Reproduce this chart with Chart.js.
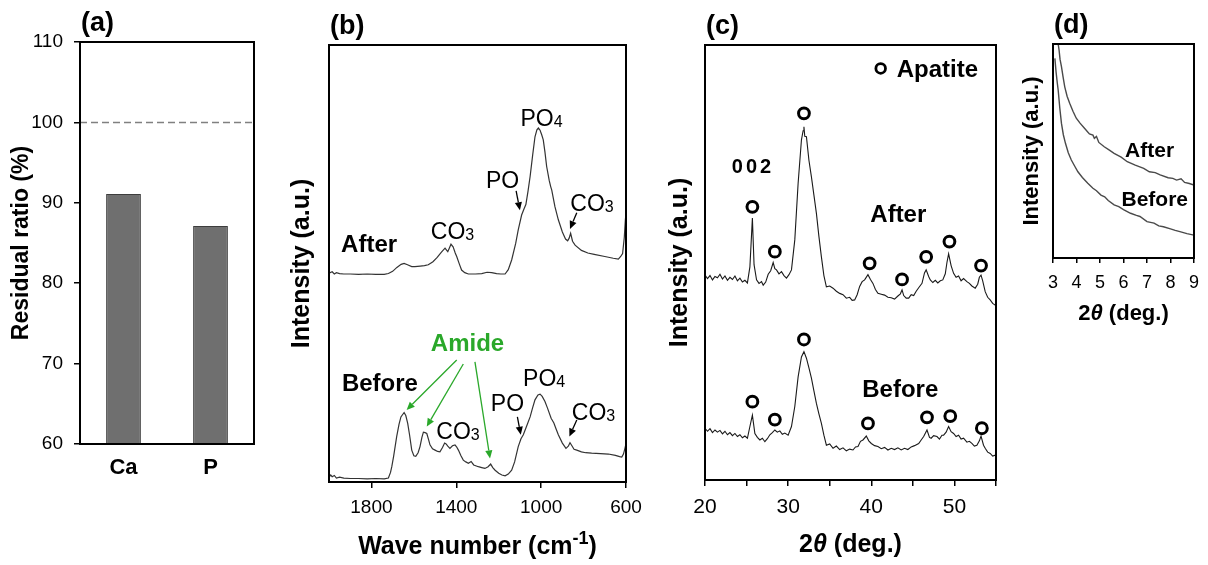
<!DOCTYPE html>
<html>
<head>
<meta charset="utf-8">
<script src="https://cdn.jsdelivr.net/npm/chart.js@4.4.1/dist/chart.umd.min.js"></script>
<style>
  html, body { margin: 0; padding: 0; background: #fff; }
  #figure { position: relative; width: 1208px; height: 565px; overflow: hidden; }
  #figure canvas { position: absolute; top: 0; }
</style>
</head>
<body>
<div id="figure">
  <canvas id="ratioChart" width="285" height="565" style="left:0"></canvas>
  <canvas id="ftirChart" width="370" height="565" style="left:285px"></canvas>
  <canvas id="xrdChart" width="360" height="565" style="left:655px"></canvas>
  <canvas id="lowAngleChart" width="193" height="330" style="left:1015px"></canvas>
</div>
<script>
// (a) residual ratio of the elements
const elements = ['Ca', 'P'];
const residualRatio = [91.1, 87.1];
const referenceLevel = 100;

// (b) FTIR spectra, [wave number, intensity]
const waveTicks = [1800, 1400, 1000, 600];
const ftirAfter = [
  [2000, 47.8], [1985, 48.1], [1975, 47.6], [1965, 47.9], [1950, 47.7], [1930, 47.6], [1900, 47.6],
  [1860, 47.5], [1820, 47.6], [1780, 47.5], [1740, 47.5], [1720, 47.7], [1700, 48.2], [1680, 49.1],
  [1660, 49.8], [1646, 50.0], [1630, 49.7], [1610, 49.3], [1595, 49.3], [1570, 49.4], [1550, 49.5],
  [1532, 49.7], [1510, 50.4], [1490, 51.4], [1470, 52.6], [1453, 53.5], [1445, 53.0], [1440, 52.7],
  [1432, 53.6], [1425, 54.4], [1415, 53.8], [1405, 52.4], [1398, 51.6], [1385, 49.8], [1375, 48.5],
  [1360, 47.9], [1343, 47.6], [1310, 47.6], [1280, 47.7], [1255, 48.0], [1233, 47.9], [1210, 47.7],
  [1190, 47.6], [1170, 47.6], [1155, 48.6], [1139, 50.8], [1120, 54.6], [1108, 57.7], [1092, 61.1],
  [1080, 62.6], [1072, 63.5], [1062, 66.5], [1052, 69.9], [1040, 74.8], [1029, 79.0], [1020, 80.6],
  [1013, 81.0], [1005, 80.5], [997, 79.4], [990, 78.3], [982, 75.5], [974, 72.2], [962, 69.0],
  [955, 67.6], [950, 66.8], [935, 63.0], [919, 60.0], [900, 57.2], [885, 55.6], [875, 55.2],
  [868, 55.8], [861, 56.9], [852, 55.1], [840, 54.2], [810, 53.0], [780, 52.4], [750, 52.1],
  [700, 51.6], [660, 51.2], [636, 51.0], [625, 51.6], [616, 52.3], [608, 56.0], [603, 60.0], [600, 61.5]
];
const ftirBefore = [
  [2000, 1.1], [1992, 1.6], [1985, 1.2], [1975, 1.5], [1965, 0.9], [1950, 1.1], [1930, 0.9],
  [1900, 0.8], [1860, 0.8], [1820, 0.7], [1780, 0.8], [1740, 0.7], [1720, 0.9], [1710, 2.2],
  [1704, 3.5], [1695, 6.0], [1681, 10.4], [1670, 13.2], [1661, 14.9], [1646, 15.9], [1638, 15.2],
  [1629, 13.4], [1620, 10.7], [1610, 7.3], [1600, 6.0], [1591, 5.9], [1580, 6.7], [1571, 8.1],
  [1562, 10.2], [1555, 11.4], [1547, 11.3], [1539, 11.1], [1530, 9.6], [1524, 8.5], [1512, 7.6],
  [1500, 7.3], [1488, 7.0], [1477, 6.9], [1465, 7.9], [1455, 8.9], [1448, 8.7], [1440, 8.2],
  [1430, 7.7], [1418, 8.3], [1406, 8.5], [1398, 8.0], [1390, 7.3], [1378, 6.0], [1367, 5.0],
  [1355, 4.6], [1343, 4.3], [1330, 4.7], [1318, 3.9], [1296, 3.5], [1280, 3.3], [1265, 3.1],
  [1250, 3.5], [1238, 4.1], [1228, 3.3], [1217, 2.7], [1200, 2.0], [1185, 1.6], [1170, 1.4],
  [1155, 1.8], [1139, 2.7], [1125, 4.6], [1108, 8.1], [1095, 9.9], [1084, 10.8], [1070, 12.6],
  [1052, 14.9], [1040, 17.0], [1029, 18.8], [1015, 19.9], [1005, 20.1], [995, 19.6], [982, 18.4],
  [970, 16.9], [953, 14.6], [940, 13.5], [930, 12.2], [919, 10.8], [900, 8.9], [883, 7.7],
  [872, 8.2], [864, 9.0], [855, 8.3], [845, 7.5], [832, 7.3], [810, 6.9], [790, 6.7], [762, 6.6],
  [720, 6.5], [683, 6.4], [650, 6.1], [630, 5.8], [620, 5.7], [612, 6.4], [605, 7.7], [600, 8.8]
];

// (c) XRD patterns, [2theta, intensity]
const xrdAfter = [
  [20.0, 47.1], [20.3, 46.3], [20.6, 47.0], [20.9, 46.0], [21.2, 46.8], [21.5, 46.5], [21.8, 47.3],
  [22.1, 46.2], [22.4, 46.9], [22.7, 45.9], [23.0, 46.6], [23.3, 46.1], [23.6, 46.9], [23.9, 45.8],
  [24.2, 46.4], [24.5, 45.5], [24.8, 45.9], [25.1, 45.3], [25.4, 49.0], [25.7, 60.2], [25.9, 49.5],
  [26.2, 46.0], [26.5, 45.2], [26.8, 45.6], [27.0, 44.8], [27.3, 45.5], [27.6, 47.3], [27.9, 48.1],
  [28.2, 50.0], [28.4, 48.6], [28.6, 48.3], [28.9, 47.4], [29.2, 47.9], [29.5, 47.0], [29.8, 46.4],
  [30.1, 47.2], [30.4, 48.3], [30.8, 55.2], [31.2, 68.2], [31.6, 78.2], [31.8, 80.3], [31.9, 81.2],
  [32.0, 79.0], [32.2, 78.9], [32.5, 73.5], [32.8, 69.7], [33.1, 65.5], [33.4, 61.3], [33.7, 56.0],
  [34.0, 51.3], [34.3, 47.0], [34.6, 44.4], [35.0, 44.6], [35.4, 44.1], [35.8, 43.4], [36.2, 42.9],
  [36.6, 42.6], [37.0, 41.8], [37.4, 42.0], [37.7, 41.3], [38.0, 41.4], [38.3, 42.6], [38.6, 44.5],
  [38.9, 45.6], [39.2, 46.0], [39.6, 47.2], [39.9, 46.1], [40.2, 45.2], [40.5, 43.8], [40.8, 42.9],
  [41.2, 42.7], [41.6, 42.5], [42.0, 42.0], [42.4, 41.9], [42.8, 41.6], [43.2, 42.3], [43.5, 42.8],
  [43.7, 43.7], [43.9, 42.4], [44.2, 41.8], [44.5, 41.8], [44.8, 42.6], [45.1, 42.4], [45.4, 43.4],
  [45.7, 44.2], [46.1, 45.2], [46.4, 47.6], [46.6, 48.3], [46.9, 46.8], [47.1, 46.0], [47.4, 45.4],
  [47.7, 45.9], [48.0, 45.3], [48.3, 45.8], [48.6, 46.0], [48.9, 47.4], [49.1, 50.0], [49.3, 52.0],
  [49.6, 49.3], [49.9, 47.5], [50.2, 46.6], [50.5, 46.9], [50.8, 45.8], [51.1, 46.3], [51.5, 45.6],
  [51.8, 45.2], [52.1, 44.6], [52.5, 44.1], [52.8, 45.0], [53.0, 46.6], [53.2, 47.1], [53.4, 45.8],
  [53.7, 43.3], [54.0, 42.0], [54.3, 41.4], [54.6, 40.6], [54.9, 40.2], [55.0, 40.0]
];
const xrdBefore = [
  [20.0, 11.9], [20.3, 11.2], [20.6, 11.8], [20.9, 10.9], [21.2, 11.5], [21.5, 11.0], [21.8, 11.4],
  [22.1, 10.6], [22.4, 11.2], [22.7, 10.4], [23.0, 10.9], [23.3, 10.2], [23.6, 10.7], [23.9, 10.0],
  [24.2, 10.4], [24.5, 9.7], [24.8, 10.1], [25.1, 9.6], [25.4, 12.3], [25.7, 14.9], [26.0, 10.7],
  [26.3, 9.8], [26.6, 9.2], [26.9, 9.6], [27.2, 8.8], [27.5, 9.5], [27.8, 10.4], [28.1, 10.9],
  [28.4, 11.5], [28.7, 11.0], [29.0, 11.3], [29.3, 10.5], [29.6, 10.8], [30.0, 10.3], [30.4, 12.3],
  [30.8, 16.9], [31.2, 23.7], [31.6, 28.3], [31.9, 29.5], [32.2, 28.0], [32.5, 25.8], [32.8, 23.4],
  [33.1, 20.5], [33.4, 17.6], [33.7, 15.2], [34.0, 13.0], [34.3, 10.3], [34.6, 8.0], [35.0, 8.3],
  [35.4, 7.3], [35.8, 7.8], [36.2, 7.0], [36.6, 7.4], [37.0, 6.7], [37.4, 7.1], [37.8, 6.9],
  [38.1, 7.6], [38.4, 7.7], [38.7, 8.9], [39.0, 9.2], [39.4, 10.1], [39.7, 9.0], [40.0, 8.4],
  [40.4, 7.9], [40.8, 7.7], [41.2, 7.2], [41.6, 7.5], [42.0, 6.9], [42.4, 7.3], [42.8, 7.0],
  [43.2, 7.4], [43.6, 6.9], [44.0, 7.3], [44.4, 7.0], [44.8, 7.6], [45.2, 7.9], [45.7, 8.4],
  [46.0, 9.2], [46.3, 10.0], [46.7, 11.5], [47.0, 9.8], [47.2, 9.6], [47.5, 10.2], [47.9, 10.0],
  [48.2, 9.4], [48.5, 10.3], [48.7, 10.3], [49.0, 11.0], [49.3, 12.3], [49.6, 11.1], [49.9, 10.7],
  [50.2, 10.0], [50.5, 10.3], [50.8, 9.4], [51.1, 9.6], [51.5, 8.7], [51.8, 8.9], [52.1, 8.4],
  [52.4, 7.8], [52.7, 8.0], [53.0, 9.0], [53.2, 10.1], [53.5, 8.0], [53.7, 7.3], [54.0, 6.4],
  [54.3, 6.1], [54.6, 5.5], [54.9, 5.7], [55.0, 5.4]
];
// apatite reflections marked above each pattern
const apatiteAfter = [[25.7, 62.8], [28.4, 52.5], [31.9, 84.3], [39.8, 49.8], [43.7, 46.1], [46.6, 51.3], [49.4, 54.8], [53.2, 49.3]];
const apatiteBefore = [[25.7, 18.0], [28.4, 13.9], [31.9, 32.3], [39.6, 13.0], [46.7, 14.4], [49.5, 14.7], [53.3, 11.9]];

// (d) low-angle region, [2theta, intensity]
const lowAfter = [
  [3.22, 100], [3.26, 97.0], [3.30, 92.8], [3.36, 89.4], [3.43, 84.5], [3.50, 80.0], [3.60, 75.6],
  [3.71, 72.3], [3.85, 68.6], [3.99, 65.3], [4.15, 63.0], [4.34, 60.6], [4.55, 58.0], [4.70, 57.4],
  [4.76, 55.9], [4.85, 56.8], [4.95, 54.0], [5.18, 52.0], [5.40, 50.4], [5.60, 48.9], [5.90, 47.1],
  [6.16, 45.0], [6.50, 43.4], [6.86, 41.9], [7.10, 40.3], [7.35, 39.9], [7.56, 38.8], [7.90, 37.5],
  [8.10, 37.2], [8.26, 36.4], [8.45, 37.0], [8.60, 35.3], [8.80, 34.8], [9.00, 34.1]
];
const lowBefore = [
  [3.08, 93.3], [3.13, 87.0], [3.18, 82.0], [3.22, 78.5], [3.29, 70.0], [3.36, 62.9], [3.44, 57.6],
  [3.53, 53.6], [3.65, 49.2], [3.78, 45.8], [3.92, 43.0], [4.06, 40.3], [4.25, 37.6], [4.48, 34.9],
  [4.70, 32.6], [4.85, 31.4], [5.04, 29.4], [5.20, 28.6], [5.35, 26.9], [5.60, 24.8], [5.80, 24.0],
  [6.00, 22.6], [6.30, 20.9], [6.55, 19.9], [6.70, 19.4], [7.00, 17.0], [7.30, 16.3], [7.50, 15.0],
  [7.70, 14.6], [8.00, 13.6], [8.20, 12.9], [8.40, 12.3], [8.70, 11.4], [9.00, 10.7]
];

const FONT = "'Liberation Sans', Arial, Helvetica, sans-serif";
const AMIDE_GREEN = '#2aa82a';

Chart.defaults.font.family = FONT;
Chart.defaults.color = '#000';
Chart.defaults.animation = false;
Chart.defaults.responsive = false;
Chart.defaults.plugins.legend.display = false;
Chart.defaults.plugins.tooltip.enabled = false;

const toPoints = pairs => pairs.map(([x, y]) => ({ x, y }));

// small helpers for labels made of normal / subscript / italic pieces
const plain = t => [{ t }];
const chem = (base, idx) => [{ t: base }, { t: idx, sub: true }];

function drawRich(ctx, parts, x, cy, size, weight, color, align) {
  const fontOf = p => `${p.italic ? 'italic ' : ''}${weight} ${p.sub || p.sup ? Math.round(size * 0.7) : size}px ${FONT}`;
  const widths = parts.map(p => { ctx.font = fontOf(p); return ctx.measureText(p.t).width; });
  const total = widths.reduce((a, b) => a + b, 0);
  let cx = align === 'left' ? x : x - total / 2;
  const base = cy + size * 0.36;
  ctx.fillStyle = color;
  ctx.textAlign = 'left';
  ctx.textBaseline = 'alphabetic';
  parts.forEach((p, i) => {
    ctx.font = fontOf(p);
    const shift = p.sub ? size * 0.03 : p.sup ? -size * 0.4 : 0;
    ctx.fillText(p.t, cx, base + shift);
    cx += widths[i];
  });
}

function drawArrow(ctx, x1, y1, x2, y2, color) {
  const ang = Math.atan2(y2 - y1, x2 - x1);
  const head = 8, half = 3.6;
  const bx = x2 - head * Math.cos(ang), by = y2 - head * Math.sin(ang);
  ctx.strokeStyle = color;
  ctx.fillStyle = color;
  ctx.lineWidth = 1.3;
  ctx.beginPath();
  ctx.moveTo(x1, y1);
  ctx.lineTo(bx, by);
  ctx.stroke();
  ctx.beginPath();
  ctx.moveTo(x2, y2);
  ctx.lineTo(bx + half * Math.sin(ang), by - half * Math.cos(ang));
  ctx.lineTo(bx - half * Math.sin(ang), by + half * Math.cos(ang));
  ctx.closePath();
  ctx.fill();
}

// frame, panel letter, axis caption and in-plot notes for one chart
function makeDecor(spec) {
  return {
    id: 'decor',
    afterDraw(chart) {
      const { ctx, chartArea: area, scales } = chart;
      const px = v => scales.x.getPixelForValue(v);
      const py = v => scales.y.getPixelForValue(v);
      ctx.save();

      if (spec.refLine !== undefined) {
        ctx.strokeStyle = '#808080';
        ctx.lineWidth = 1.5;
        ctx.setLineDash([7, 4]);
        ctx.beginPath();
        ctx.moveTo(area.left, py(spec.refLine));
        ctx.lineTo(area.right, py(spec.refLine));
        ctx.stroke();
        ctx.setLineDash([]);
      }

      ctx.strokeStyle = '#000';
      ctx.lineWidth = 2;
      ctx.strokeRect(area.left, area.top, area.right - area.left, area.bottom - area.top);

      drawRich(ctx, plain(spec.tag), area.left + 1, area.top - 21, 27, 'bold', '#000', 'left');

      if (spec.caption) {
        drawRich(ctx, spec.caption.parts, (area.left + area.right) / 2, area.bottom + spec.caption.gap,
          spec.caption.size, 'bold', '#000', 'center');
      }

      (spec.arrows || []).forEach(a => {
        drawArrow(ctx, px(a.from[0]), py(a.from[1]), px(a.to[0]), py(a.to[1]), a.color || '#000');
      });

      (spec.labels || []).forEach(l => {
        ctx.letterSpacing = l.spacing || '0px';
        drawRich(ctx, l.parts, px(l.x), py(l.y), l.size, l.bold ? 'bold' : 'normal', l.color || '#000', l.align || 'center');
        ctx.letterSpacing = '0px';
      });

      if (spec.legendMark) {
        ctx.strokeStyle = '#000';
        ctx.lineWidth = 2.8;
        ctx.beginPath();
        ctx.arc(px(spec.legendMark[0]), py(spec.legendMark[1]), 4.8, 0, Math.PI * 2);
        ctx.stroke();
      }
      ctx.restore();
    }
  };
}

function tickGrid(len) {
  return { display: true, drawOnChartArea: false, drawTicks: true, tickLength: len, color: '#000', lineWidth: 1.5 };
}

function intensityAxis(width, size, pad) {
  return {
    type: 'linear', min: 0, max: 100,
    ticks: { display: false },
    grid: { display: false },
    border: { display: false },
    title: { display: true, text: 'Intensity (a.u.)', font: { size, weight: 'bold' }, padding: { top: pad, bottom: 0 } },
    afterFit: s => { s.width = width; }
  };
}

function spectrum(pairs, color, width) {
  return { data: toPoints(pairs), borderColor: color, borderWidth: width, pointRadius: 0, tension: 0, fill: false };
}

function markers(pairs) {
  return {
    data: toPoints(pairs), showLine: false, pointRadius: 5.4, pointBorderWidth: 3,
    pointBackgroundColor: '#fff', pointBorderColor: '#000'
  };
}

// (a) bars
new Chart(document.getElementById('ratioChart'), {
  type: 'bar',
  data: {
    labels: elements,
    datasets: [{
      data: residualRatio, backgroundColor: '#6f6f6f', borderColor: '#3d3d3d', borderWidth: 1,
      barPercentage: 0.4, categoryPercentage: 1
    }]
  },
  options: {
    layout: { padding: { top: 42, right: 31, left: 0, bottom: 0 } },
    scales: {
      x: {
        ticks: { font: { size: 22, weight: 'bold' }, padding: 3 },
        grid: { display: false }, border: { display: false },
        afterFit: s => { s.height = 121; }
      },
      y: {
        min: 60, max: 110,
        ticks: { stepSize: 10, font: { size: 19 }, padding: 11 },
        grid: tickGrid(6), border: { display: false },
        title: { display: true, text: 'Residual ratio (%)', font: { size: 23, weight: 'bold' }, padding: { top: 8, bottom: 0 } },
        afterFit: s => { s.width = 80; }
      }
    }
  },
  plugins: [makeDecor({ tag: '(a)', refLine: referenceLevel })]
});

// (b) FTIR
new Chart(document.getElementById('ftirChart'), {
  type: 'line',
  data: { datasets: [spectrum(ftirAfter, '#333', 1.2), spectrum(ftirBefore, '#333', 1.2)] },
  options: {
    layout: { padding: { top: 45, right: 29, left: 0, bottom: 0 } },
    scales: {
      x: {
        type: 'linear', min: 600, max: 2000, reverse: true,
        afterBuildTicks: s => { s.ticks = waveTicks.map(value => ({ value })); },
        ticks: { font: { size: 19 }, padding: 8, maxRotation: 0, autoSkip: false, callback: v => String(v) },
        grid: tickGrid(6), border: { display: false },
        afterFit: s => { s.height = 83; }
      },
      y: intensityAxis(44, 25, 2)
    }
  },
  plugins: [makeDecor({
    tag: '(b)',
    caption: { parts: [{ t: 'Wave number (cm' }, { t: '-1', sup: true }, { t: ')' }], size: 25, gap: 63 },
    arrows: [
      { from: [1118, 66.6], to: [1100, 62.2] },
      { from: [832, 61.6], to: [864, 57.9] },
      { from: [1112, 14.9], to: [1096, 10.8] },
      { from: [832, 14.2], to: [867, 10.4] },
      { from: [1398, 27.9], to: [1634, 16.5], color: AMIDE_GREEN },
      { from: [1367, 27.0], to: [1539, 12.7], color: AMIDE_GREEN },
      { from: [1312, 27.5], to: [1241, 5.4], color: AMIDE_GREEN }
    ],
    labels: [
      { x: 1811, y: 54.7, parts: plain('After'), size: 24, bold: true },
      { x: 1418, y: 57.4, parts: chem('CO', '3'), size: 23 },
      { x: 1182, y: 69.1, parts: plain('PO'), size: 23 },
      { x: 998, y: 83.3, parts: chem('PO', '4'), size: 23 },
      { x: 760, y: 63.8, parts: chem('CO', '3'), size: 23 },
      { x: 1760, y: 22.7, parts: plain('Before'), size: 24, bold: true },
      { x: 1347, y: 32.0, parts: plain('Amide'), size: 24, bold: true, color: AMIDE_GREEN },
      { x: 1392, y: 11.7, parts: chem('CO', '3'), size: 23 },
      { x: 1159, y: 18.1, parts: plain('PO'), size: 23 },
      { x: 986, y: 23.8, parts: chem('PO', '4'), size: 23 },
      { x: 753, y: 16.0, parts: chem('CO', '3'), size: 23 }
    ]
  })]
});

// (c) XRD
new Chart(document.getElementById('xrdChart'), {
  type: 'line',
  data: {
    datasets: [
      spectrum(xrdAfter, '#1a1a1a', 1.1), spectrum(xrdBefore, '#1a1a1a', 1.1),
      markers(apatiteAfter), markers(apatiteBefore)
    ]
  },
  options: {
    layout: { padding: { top: 45, right: 19, left: 0, bottom: 0 } },
    scales: {
      x: {
        type: 'linear', min: 20, max: 55,
        ticks: { stepSize: 5, font: { size: 21 }, padding: 9, maxRotation: 0, autoSkip: false,
          callback: v => (v % 10 === 0 ? String(v) : '') },
        grid: tickGrid(6), border: { display: false },
        afterFit: s => { s.height = 85; }
      },
      y: intensityAxis(50, 25, 10)
    }
  },
  plugins: [makeDecor({
    tag: '(c)',
    caption: { parts: [{ t: '2' }, { t: 'θ', italic: true }, { t: ' (deg.)' }], size: 25, gap: 63 },
    legendMark: [41.13, 94.6],
    labels: [
      { x: 43.06, y: 94.6, parts: plain('Apatite'), size: 24, bold: true, align: 'left' },
      { x: 25.77, y: 72.2, parts: plain('002'), size: 20, bold: true, spacing: '3px' },
      { x: 43.25, y: 61.4, parts: plain('After'), size: 24, bold: true },
      { x: 43.49, y: 21.1, parts: plain('Before'), size: 24, bold: true }
    ]
  })]
});

// (d) low-angle scattering
new Chart(document.getElementById('lowAngleChart'), {
  type: 'line',
  data: { datasets: [spectrum(lowAfter, '#4a4a4a', 1.4), spectrum(lowBefore, '#4a4a4a', 1.4)] },
  options: {
    layout: { padding: { top: 44, right: 12, left: 0, bottom: 0 } },
    scales: {
      x: {
        type: 'linear', min: 3, max: 9,
        ticks: { stepSize: 1, font: { size: 18 }, padding: 9, maxRotation: 0, autoSkip: false },
        grid: tickGrid(5), border: { display: false },
        afterFit: s => { s.height = 72; }
      },
      y: intensityAxis(38, 22, 4)
    }
  },
  plugins: [makeDecor({
    tag: '(d)',
    caption: { parts: [{ t: '2' }, { t: 'θ', italic: true }, { t: ' (deg.)' }], size: 22, gap: 54 },
    labels: [
      { x: 7.11, y: 50.5, parts: plain('After'), size: 21, bold: true },
      { x: 7.33, y: 27.6, parts: plain('Before'), size: 21, bold: true }
    ]
  })]
});
</script>
</body>
</html>
